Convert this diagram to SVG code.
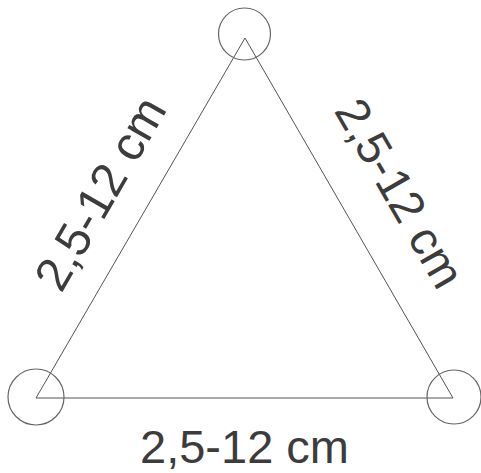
<svg xmlns="http://www.w3.org/2000/svg" width="481" height="473" viewBox="0 0 481 473">
<style>
.edge{stroke:#555;stroke-width:1;fill:none}
.ring{stroke:#666;stroke-width:1.2;fill:none}
.lbl{font-family:"Liberation Sans",Arial,sans-serif;font-size:47px;fill:#3c3c3c;text-anchor:middle}
</style>
<rect width="481" height="473" fill="#fff"/>
<g id="connectors">
<path class="edge" d="M245,38 L36,398 L453,398 Z"/>
</g>
<g id="node-top"><circle class="ring" cx="244.5" cy="34" r="26"/></g>
<g id="node-left"><circle class="ring" cx="36" cy="397" r="28"/></g>
<g id="node-right"><circle class="ring" cx="454" cy="397" r="27"/></g>
<g id="label-left"><text class="lbl" style="font-size:48px" transform="translate(114.5,201.5) rotate(-60)">2,5-12 cm</text></g>
<g id="label-right"><text class="lbl" transform="translate(385.8,201.3) rotate(60)">2,5-12 cm</text></g>
<g id="label-bottom"><text class="lbl" x="244.5" y="463">2,5-12 cm</text></g>
</svg>
